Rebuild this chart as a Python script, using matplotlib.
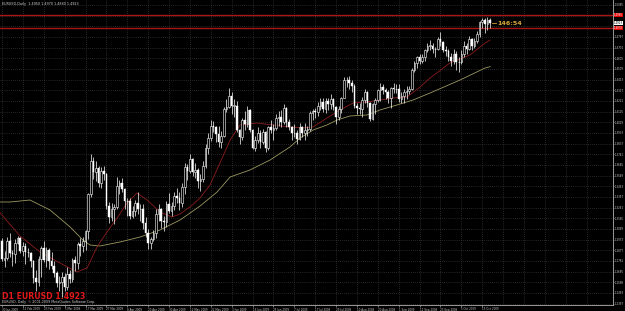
import numpy as np
import matplotlib
matplotlib.use("Agg")
import matplotlib.pyplot as plt

# ---- daily EURUSD bars (price x 10000), 30 Jan 2009 .. 20 Oct 2009 ----
opens = [12960,12790,12810,12960,12850,12840,12940,12990,12870,12920,12860,12850,12780,12630,12590,12800,12900,12790,12880,12780,
         12740,12670,12580,12590,12640,12550,12660,12620,12790,12760,12930,12920,12960,13050,13380,13680,13580,13620,13480,13590,
         13560,13280,13180,13250,13270,13460,13480,13430,13320,13320,13190,13230,13300,13250,13250,13120,13030,12940,12980,13030,
         13200,13250,13140,13130,13290,13230,13280,13370,13350,13300,13450,13630,13590,13700,13580,13600,13500,13520,13640,13800,
         13890,14000,13990,13920,13850,13910,14150,14170,14270,14180,14180,13960,13900,14050,14010,14140,13960,13800,13870,13930,
         13850,13940,13800,13990,13960,13980,14070,14080,14030,14160,14030,13990,13930,13930,13880,13990,13930,13960,13970,14110,
         14130,14120,14180,14210,14150,14220,14190,14240,14170,14080,14150,14250,14410,14410,14380,14360,14180,14160,14150,14230,
         14300,14200,14060,14190,14230,14320,14350,14320,14300,14250,14340,14330,14330,14240,14270,14300,14310,14330,14500,14560,
         14620,14580,14620,14680,14720,14720,14690,14690,14780,14750,14680,14670,14620,14580,14640,14570,14570,14640,14720,14690,
         14780,14720,14760,14820,14930,14950,14910,14950]
highs = [12990,12870,13000,13030,12880,12980,13010,13000,12950,12940,12900,12860,12790,12700,12830,12920,12960,12910,12900,12860,
         12780,12690,12650,12680,12670,12730,12700,12810,12830,12950,12990,13000,13060,13390,13740,13720,13680,13640,13630,13640,
         13570,13310,13300,13290,13540,13510,13530,13440,13350,13350,13280,13330,13400,13290,13290,13180,13070,13000,13060,13250,
         13290,13260,13190,13320,13390,13310,13400,13440,13400,13480,13660,13650,13740,13710,13660,13620,13560,13680,13830,13930,
         14050,14040,14000,14000,13950,14170,14240,14340,14300,14240,14220,13970,14070,14130,14180,14150,13970,13910,13990,13960,
         13970,13950,14000,14050,14010,14100,14130,14140,14190,14170,14060,14000,14010,13960,14020,14000,14020,14000,14130,14150,
         14160,14210,14250,14250,14250,14250,14280,14250,14180,14180,14260,14440,14440,14450,14410,14370,14200,14200,14260,14330,
         14310,14210,14200,14250,14330,14380,14370,14340,14320,14350,14380,14370,14370,14300,14330,14360,14360,14520,14580,14630,
         14640,14640,14690,14740,14770,14740,14710,14800,14840,14760,14720,14690,14650,14690,14670,14620,14680,14760,14740,14810,
         14790,14790,14850,14940,14970,14970,14980,14970]
lows = [12780,12730,12790,12820,12740,12760,12930,12850,12830,12750,12820,12730,12580,12510,12560,12640,12770,12730,12710,12710,
        12640,12550,12510,12460,12510,12520,12580,12590,12690,12710,12830,12860,12880,12980,13360,13520,13500,13450,13440,13510,
        13250,13120,13140,13110,13250,13380,13400,13250,13190,13160,13170,13190,13200,13140,13070,13000,12890,12890,12960,12990,
        13140,13080,13050,13090,13210,13190,13240,13300,13240,13270,13380,13510,13570,13550,13530,13440,13410,13490,13620,13740,
        13860,13940,13850,13810,13800,13900,14120,14160,14100,14080,13940,13830,13870,13960,13990,13940,13790,13770,13840,13800,
        13830,13760,13780,13930,13870,13960,14000,13990,14010,13990,13960,13870,13900,13830,13870,13900,13870,13910,13950,14050,
        14070,14090,14140,14120,14110,14140,14150,14140,14010,14050,14110,14250,14350,14330,14300,14160,14100,14100,14080,14200,
        14170,14040,14050,14100,14210,14220,14280,14240,14200,14160,14290,14290,14210,14200,14200,14240,14280,14320,14480,14520,
        14550,14560,14580,14660,14680,14650,14620,14680,14720,14660,14630,14580,14540,14550,14500,14480,14550,14620,14640,14680,
        14680,14700,14740,14800,14880,14830,14860,14880]
closes = [12800,12810,12960,12850,12840,12940,12990,12870,12920,12860,12860,12780,12630,12590,12800,12900,12790,12880,12780,12740,
          12670,12580,12590,12640,12550,12660,12620,12790,12760,12930,12920,12960,13050,13380,13680,13580,13620,13480,13590,13560,
          13280,13180,13250,13270,13460,13480,13430,13320,13320,13190,13230,13300,13250,13250,13120,13030,12940,12980,13030,13200,
          13250,13140,13130,13290,13230,13280,13370,13350,13300,13450,13630,13590,13700,13580,13600,13500,13520,13640,13800,13890,
          14000,13990,13920,13850,13910,14150,14170,14270,14180,14180,13960,13900,14050,14010,14140,13960,13800,13870,13930,13850,
          13940,13800,13990,13960,13980,14070,14080,14030,14160,14030,13990,13930,13930,13880,13990,13930,13960,13970,14110,14130,
          14120,14180,14210,14150,14220,14190,14240,14170,14080,14150,14250,14410,14410,14380,14360,14180,14160,14150,14230,14300,
          14200,14060,14190,14230,14320,14350,14320,14300,14250,14340,14330,14330,14240,14270,14300,14310,14330,14500,14560,14620,
          14580,14620,14680,14720,14720,14690,14690,14780,14750,14680,14670,14620,14580,14640,14570,14570,14640,14720,14690,14780,
          14720,14760,14820,14930,14950,14910,14950,14923]

# moving averages (bar index, price)
ma_fast_idx = [-1.0,6.9,14.6,22.2,28.7,32.6,36.4,40.2,44.1,47.9,51.7,55.6,60.5,65.1,68.2,72.0,75.9,79.7,83.5,87.4,91.2,97.7,
               103.8,110.3,115.3,119.2,124.5,129.5,134.5,139.8,144.8,149.8,155.2,160.2,164.0,171.6,179.3,185.1,187.0]
ma_fast_val = [1.3222,1.3006,1.2862,1.2763,1.2682,1.2718,1.2907,1.3042,1.3168,1.3303,1.3393,1.3330,1.3222,1.3177,1.3204,1.3267,
               1.3348,1.3465,1.3663,1.3870,1.4005,1.4023,1.4005,1.3987,1.3978,1.3987,1.4068,1.4140,1.4203,1.4212,1.4230,1.4248,
               1.4257,1.4347,1.4428,1.4563,1.4635,1.4743,1.4770]
ma_slow_idx = [-1.0,3.1,10.7,18.4,26.1,31.0,33.7,37.5,45.2,52.9,60.5,68.2,75.9,82.4,87.4,95.0,102.7,110.3,114.2,119.2,124.5,
               128.4,133.3,139.8,144.8,151.3,157.5,164.0,175.5,185.1,187.0]
ma_slow_val = [1.3312,1.3312,1.3330,1.3240,1.3087,1.2970,1.2925,1.2916,1.2952,1.2997,1.3060,1.3150,1.3276,1.3402,1.3537,1.3600,
               1.3690,1.3807,1.3888,1.3960,1.4005,1.4050,1.4086,1.4095,1.4140,1.4185,1.4230,1.4293,1.4410,1.4518,1.4530]

date_labels = ["30 Jan 2009","11 Feb 2009","23 Feb 2009","5 Mar 2009","17 Mar 2009","27 Mar 2009","8 Apr 2009","20 Apr 2009",
               "30 Apr 2009","12 May 2009","22 May 2009","3 Jun 2009","15 Jun 2009","25 Jun 2009","7 Jul 2009","17 Jul 2009",
               "29 Jul 2009","10 Aug 2009","20 Aug 2009","1 Sep 2009","11 Sep 2009","23 Sep 2009","5 Oct 2009","15 Oct 2009"]
price_ticks = [1.5085,1.4989,1.4893,1.4797,1.4701,1.4605,1.4509,1.4413,1.4317,1.4221,1.4125,1.4029,1.3933,1.3837,1.3741,
               1.3645,1.3549,1.3453,1.3357,1.3261,1.3165,1.3069,1.2973,1.2877,1.2781,1.2685,1.2589,1.2493,1.2397]
hlines = [1.4995, 1.4878]
last_price = 1.4923
title_text = "EURUSD,Daily  1.4950 1.4970 1.4880 1.4923"
timer_text = "146:54"

o = np.array(opens) / 1e4
h = np.array(highs) / 1e4
l = np.array(lows) / 1e4
c = np.array(closes) / 1e4
idx = np.arange(len(c))

W, H = 625, 311
fig = plt.figure(figsize=(W / 100, H / 100), dpi=100, facecolor="black")
ax = fig.add_axes([0, 6 / H, 613 / W, 305 / H], facecolor="black")

ax.set_xlim(-0.77, 234.1)
ax.set_ylim(1.2385, 1.5130)

# grid
gcol = "#4a4a4a"
for p in price_ticks:
    ax.axhline(p, color=gcol, lw=0.5, ls=(0, (1, 2)), zorder=0)
for k in range(0, len(date_labels) * 8 + 40, 8):
    ax.axvline(k, color=gcol, lw=0.5, ls=(0, (1, 2)), zorder=0)

# horizontal red levels
for p in hlines:
    ax.axhline(p, color="#a81616", lw=1.0, zorder=1)

# moving averages
ax.plot(ma_slow_idx, ma_slow_val, color="#9c9860", lw=0.6, zorder=2)
ax.plot(ma_fast_idx, ma_fast_val, color="#8c1c1c", lw=0.6, zorder=2)

# candles
ax.vlines(idx, l, h, color="white", lw=0.5, zorder=3)
up = c >= o
body_lo = np.minimum(o, c)
body_h = np.maximum(np.abs(c - o), 0.00025)
ax.bar(idx[up], body_h[up], bottom=body_lo[up], width=0.62, color="black",
       edgecolor="white", linewidth=0.4, zorder=4)
ax.bar(idx[~up], body_h[~up], bottom=body_lo[~up], width=0.62, color="white",
       edgecolor="white", linewidth=0.3, zorder=4)

# timer text near last bar
ax.plot([idx[-1] + 0.6, idx[-1] + 2.4], [last_price - 0.0004, last_price - 0.0004], color="#d0a030", lw=0.6, zorder=5)
ax.text(idx[-1] + 2.8, last_price - 0.0004, timer_text, color="#d8a83a", fontsize=4.6,
        va="center", ha="left", fontweight="bold", zorder=5)

# spines
for s in ["top", "left"]:
    ax.spines[s].set_visible(False)
for s in ["right", "bottom"]:
    ax.spines[s].set_color("#b0b0b0")
    ax.spines[s].set_linewidth(0.6)

hidden = [1.4989, 1.4893]
ax.yaxis.tick_right()
ax.set_yticks(price_ticks)
ax.set_yticklabels(["" if p in hidden else f"{p:.4f}" for p in price_ticks])
ax.tick_params(axis="y", colors="#c8c8c8", labelsize=1.9, length=0.8, width=0.4, pad=0.3)
ax.set_xticks(np.arange(len(date_labels)) * 8)
ax.set_xticklabels(date_labels, ha="left")
ax.tick_params(axis="x", colors="#c8c8c8", labelsize=2.0, length=1.2, width=0.4, pad=0.6)

# price labels on right axis
trans = ax.get_yaxis_transform()
for p in hlines:
    ax.text(1.0015, p, f"{p:.4f}", transform=trans, fontsize=1.9, color="white", va="center", ha="left",
            bbox=dict(boxstyle="square,pad=0.15", fc="#e00000", ec="none"), clip_on=False, zorder=6)
ax.text(1.0015, last_price, f"{last_price:.4f}", transform=trans, fontsize=1.9, color="black", va="center", ha="left",
        bbox=dict(boxstyle="square,pad=0.15", fc="white", ec="none"), clip_on=False, zorder=6)

# header and footer texts
ax.text(0.004, 0.995, title_text, transform=ax.transAxes, fontsize=2.4, color="#d0d0d0", va="top", ha="left")
ax.text(0.003, 0.012, f"D1 EURUSD {last_price:.4f}", transform=ax.transAxes, fontsize=5.6, color="#e01818",
        va="bottom", ha="left", fontweight="bold")
ax.text(0.004, 0.002, "EURUSD, Daily  \u00a9 2001-2009 MetaQuotes Software Corp.", transform=ax.transAxes,
        fontsize=2.3, color="#d0d0d0", va="bottom", ha="left")

fig.savefig("out.png", dpi=100, facecolor="black")
